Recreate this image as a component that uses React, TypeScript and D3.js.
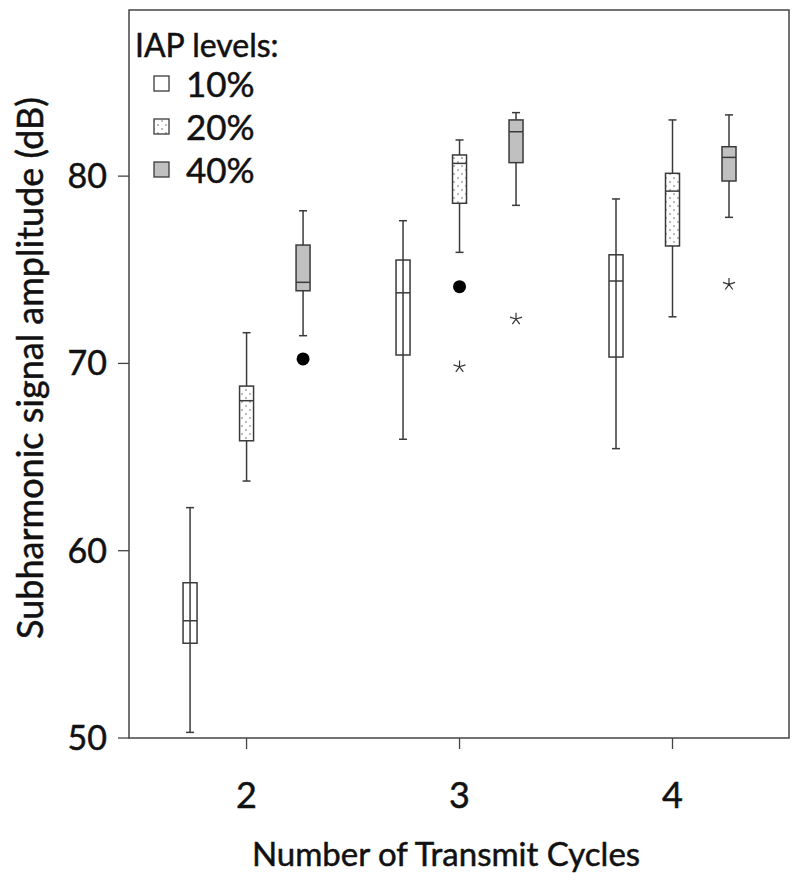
import React from 'react';
import * as d3 from 'd3';

const CYCLES = [2, 3, 4];
const LEVELS = ['10%', '20%', '40%'];
// [whisker low, q1, median, q3, whisker high] per cycle (2, 3, 4)
const BOX_10 = [
  [50.3, 55.06, 56.26, 58.29, 62.3],
  [65.95, 70.45, 73.77, 75.52, 77.62],
  [65.45, 70.34, 74.4, 75.8, 78.78],
];
const BOX_20 = [
  [63.72, 65.87, 68.01, 68.79, 71.64],
  [75.93, 78.55, 80.68, 81.13, 81.93],
  [72.49, 76.27, 79.2, 80.15, 83.0],
];
const BOX_40 = [
  [71.48, 73.88, 74.33, 76.32, 78.15],
  [78.44, 80.72, 82.37, 83.0, 83.39],
  [77.8, 79.74, 81.0, 81.57, 83.27],
];
const OUTLIER_CYCLES = [2, 3];
const OUTLIER_LEVELS = ['40%', '20%'];
const OUTLIER_VALUES = [70.24, 74.1];
const EXTREME_CYCLES = [3, 3, 4];
const EXTREME_LEVELS = ['20%', '40%', '40%'];
const EXTREME_VALUES = [69.82, 72.37, 74.22];
const Y_TICKS = [50, 60, 70, 80];

const W = 800;
const H = 880;
const M = { left: 129, right: 11, top: 10, bottom: 142 };
const STROKE = '#3a3a3a';
const GRAY = '#c0c0c0';
const FONT = 'Lato, "Open Sans", sans-serif';
// slight outline to mimic the heavier text of the original
const TXT = { fill: '#111', stroke: '#111', strokeWidth: 0.5 };

const asterisk = {
  draw(ctx: any, size: number) {
    const r = Math.sqrt(size) / 2;
    for (let k = 0; k < 5; k++) {
      const a = -Math.PI / 2 + (k * 2 * Math.PI) / 5;
      ctx.moveTo(0, 0);
      ctx.lineTo(r * Math.cos(a), r * Math.sin(a));
    }
  },
};

export default function App() {
  const x = d3.scaleLinear().domain([1.448, 4.547]).range([M.left, W - M.right]);
  const y = d3.scaleLinear().domain([50, 88.87]).range([H - M.bottom, M.top]);
  const off = d3.scalePoint<string>().domain(LEVELS).range([-56.5, 56.5]);
  const boxW = 14;
  const capW = 8;
  const fillFor = (lvl: string) => (lvl === '10%' ? '#fff' : lvl === '20%' ? 'url(#dots)' : GRAY);
  const sets = [BOX_10, BOX_20, BOX_40];
  const starPath = d3.symbol(asterisk as any, 160)() || '';
  const y0 = H - M.bottom;

  return (
    <svg width={W} height={H} style={{ position: 'absolute', left: 0, top: 0, background: '#fff' }} fontFamily={FONT}>
      <defs>
        <pattern id="dots" width={8} height={8} patternUnits="userSpaceOnUse">
          <rect width={8} height={8} fill="#fff" />
          <circle cx={2} cy={2} r={0.7} fill="#444" />
          <circle cx={6} cy={6} r={0.7} fill="#444" />
        </pattern>
      </defs>
      <rect x={M.left} y={M.top} width={W - M.left - M.right} height={y0 - M.top} fill="none" stroke="#444" strokeWidth={1.5} />

      {Y_TICKS.map((t) => (
        <g key={t}>
          <line x1={M.left - 11} x2={M.left} y1={y(t)} y2={y(t)} stroke="#444" strokeWidth={1.3} />
          <text x={107} y={y(t)} dy="0.35em" textAnchor="end" fontSize={34} {...TXT}>{t}</text>
        </g>
      ))}
      {CYCLES.map((c) => (
        <g key={c}>
          <line x1={x(c)} x2={x(c)} y1={y0} y2={y0 + 11} stroke="#444" strokeWidth={1.3} />
          <text x={x(c)} y={y0 + 70} textAnchor="middle" fontSize={36} {...TXT}>{c}</text>
        </g>
      ))}
      <text x={446} y={866} textAnchor="middle" fontSize={33} {...TXT}>Number of Transmit Cycles</text>
      <text transform={`translate(43,368) rotate(-90)`} textAnchor="middle" fontSize={36} {...TXT}>Subharmonic signal amplitude (dB)</text>

      {LEVELS.map((lvl, li) =>
        CYCLES.map((c, ci) => {
          const [lo, q1, md, q3, hi] = sets[li][ci];
          const cx = x(c) + (off(lvl) || 0);
          return (
            <g key={lvl + c} stroke={STROKE} strokeWidth={1.5}>
              <line x1={cx} x2={cx} y1={y(hi)} y2={y(q3)} />
              <line x1={cx} x2={cx} y1={y(q1)} y2={y(lo)} />
              <line x1={cx - capW / 2} x2={cx + capW / 2} y1={y(hi)} y2={y(hi)} />
              <line x1={cx - capW / 2} x2={cx + capW / 2} y1={y(lo)} y2={y(lo)} />
              <rect x={cx - boxW / 2} y={y(q3)} width={boxW} height={y(q1) - y(q3)} fill={fillFor(lvl)} />
              {lvl === '10%' && <line x1={cx} x2={cx} y1={y(q3)} y2={y(q1)} />}
              <line x1={cx - boxW / 2} x2={cx + boxW / 2} y1={y(md)} y2={y(md)} />
            </g>
          );
        })
      )}

      {OUTLIER_VALUES.map((v, i) => (
        <circle key={i} cx={x(OUTLIER_CYCLES[i]) + (off(OUTLIER_LEVELS[i]) || 0)} cy={y(v)} r={6.5} fill="#000" />
      ))}
      {EXTREME_VALUES.map((v, i) => (
        <path key={i} d={starPath} transform={`translate(${x(EXTREME_CYCLES[i]) + (off(EXTREME_LEVELS[i]) || 0)},${y(v)})`} fill="none" stroke="#333" strokeWidth={1.2} />
      ))}

      <g>
        <text x={135} y={57} fontSize={32} {...TXT}>IAP levels:</text>
        {LEVELS.map((lvl, i) => (
          <g key={lvl} transform={`translate(0,${84 + i * 43})`}>
            <rect x={154} y={-8} width={15} height={15} fill={fillFor(lvl)} stroke={STROKE} strokeWidth={1.3} />
            <text x={186} y={0} dy="0.36em" fontSize={35} {...TXT}>{lvl}</text>
          </g>
        ))}
      </g>
    </svg>
  );
}
